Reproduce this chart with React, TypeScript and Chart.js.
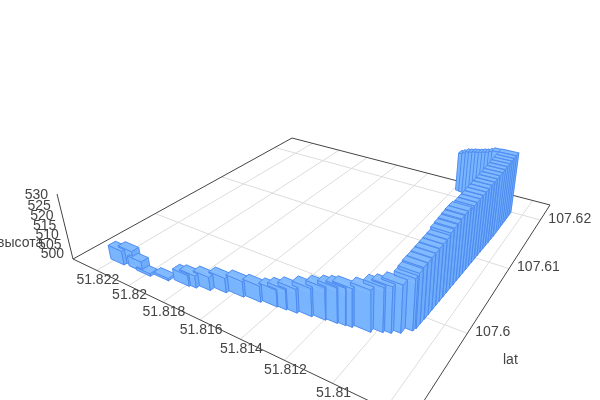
import React, { useEffect, useRef } from "react";
import { Chart, registerables } from "chart.js";

Chart.register(...registerables);

const lonTicks = [51.822, 51.82, 51.818, 51.816, 51.814, 51.812, 51.81, 51.808];
const lonLabels = ["51.822", "51.82", "51.818", "51.816", "51.814", "51.812", "51.81"];
const latTicks = [107.6, 107.61, 107.62];
const latLabels = ["107.6", "107.61", "107.62"];
const heightTicks = [500, 505, 510, 515, 520, 525, 530];

const lons = [
  51.82177, 51.82131, 51.82068, 51.82017, 51.81929, 51.81829, 51.81796, 51.81736, 51.81671, 51.81593, 51.81515,
  51.81442, 51.814, 51.81354, 51.81294, 51.81238, 51.8119, 51.81157, 51.81131, 51.81061, 51.8102, 51.80992, 51.80962, 51.8093,
  51.80925, 51.80924, 51.80922, 51.80921, 51.8092, 51.80919, 51.80918, 51.80917, 51.80916, 51.80915, 51.80914,
  51.80913, 51.80912, 51.80911, 51.8091, 51.80909, 51.80908, 51.80907, 51.80906, 51.80905, 51.80904, 51.80903,
  51.80902, 51.80901, 51.809, 51.809, 51.809, 51.809, 51.809, 51.809, 51.809, 51.809,
  51.80945, 51.80965, 51.80985, 51.81005, 51.81025, 51.81045, 51.81065, 51.81085, 51.81105, 51.81125, 51.81145,
];
const lats = [
  107.59255, 107.59287, 107.5927, 107.59261, 107.59299, 107.59337, 107.59352, 107.59389, 107.59438, 107.59471,
  107.59494, 107.59518, 107.59528, 107.59541, 107.59568, 107.59591, 107.59608, 107.59621, 107.59631, 107.59658,
  107.59705, 107.59731, 107.59771, 107.59843,
  107.59882, 107.59948, 107.60015, 107.60083, 107.60148, 107.60216, 107.60282, 107.6035, 107.60415, 107.60482,
  107.60549, 107.60616, 107.60682, 107.60749, 107.60815, 107.60883, 107.60949, 107.61016, 107.61082, 107.61149,
  107.61215, 107.61283, 107.61349, 107.61416, 107.61482, 107.61549, 107.61616, 107.61682, 107.61749, 107.61815,
  107.61882, 107.61949,
  107.62025, 107.6205, 107.6207, 107.6209, 107.62105, 107.6212, 107.6214, 107.6215, 107.6217, 107.6218, 107.62193,
];
const heights = [
  506.5, 507, 504.7, 501.2, 501, 505, 505.5, 506, 506.5, 507, 507.2, 507.5, 509, 510.5, 512.3, 514, 515.3, 516, 516.5, 517.7,
  519, 519.5, 520.3, 522,
  523.2, 523.8, 524, 524.3, 524.5, 524.8, 525, 525.3, 526.4, 526.9, 527.3, 527.8, 528.2, 528.3, 527.6, 527.7, 527.9,
  528.1, 528.3, 528.5, 528.7, 528.9, 529.1, 529.3, 529.5, 529.7, 529.9, 530.1, 530.2, 530.3, 530.4, 530.5,
  528.8, 527.6, 526.6, 525.8, 525, 524.3, 523.7, 523, 522.3, 521.2, 520.2,
];

const LON_MAX = 51.8236;
const LON_SPAN = 0.0165;
const LAT_MIN = 107.5903;
const LAT_SPAN = 0.0334;
const BAR_LON = 0.00086;
const BAR_LAT = 0.0008;
const BASE = 500;

type Pt = { x: number; y: number };

function project(lon: number, lat: number, h: number): Pt {
  const u = (LON_MAX - lon) / LON_SPAN;
  const v = (lat - LAT_MIN) / LAT_SPAN;
  const z = (h - 500) / 30;
  const w = -0.2944 * u + 0.4687 * v - 0.0541 * z + 1;
  return {
    x: (217 * u + 355.9 * v - 19.04 * z + 73) / w,
    y: (38 * u - 56.3 * v - 75.5 * z + 259) / w,
  };
}

const LON_EDGE_A = LON_MAX;
const LON_EDGE_B = LON_MAX - LON_SPAN;
const LAT_EDGE_A = LAT_MIN;
const LAT_EDGE_B = LAT_MIN + LAT_SPAN;

const FONT = '14px "Liberation Sans", Arial, sans-serif';
const TEXT = "#444444";

function polyDataset(points: Pt[], fill: string | false, stroke: string, width: number) {
  return {
    data: points,
    showLine: true,
    fill: fill ? "shape" : false,
    backgroundColor: fill || "transparent",
    borderColor: stroke,
    borderWidth: width,
    pointRadius: 0,
    tension: 0,
    clip: false,
  };
}

type Box = { lo0: number; lo1: number; la0: number; la1: number; h: number };

const uniq = (xs: number[]) => {
  const s = [...xs].sort((a, b) => a - b);
  return s.filter((x, i) => i === 0 || x - s[i - 1] > 1e-9);
};

function buildDatasets() {
  const out: any[] = [];
  const GRID = "#dcdcdc";
  const AXIS = "#444444";
  lonTicks.forEach((t) => {
    out.push(polyDataset([project(t, LAT_EDGE_A, BASE), project(t, LAT_EDGE_B, BASE)], false, GRID, 1));
  });
  latTicks.forEach((t) => {
    out.push(polyDataset([project(LON_EDGE_A, t, BASE), project(LON_EDGE_B, t, BASE)], false, GRID, 1));
  });
  const c00 = project(LON_EDGE_A, LAT_EDGE_A, BASE);
  const c10 = project(LON_EDGE_B, LAT_EDGE_A, BASE);
  const c11 = project(LON_EDGE_B, LAT_EDGE_B, BASE);
  const c01 = project(LON_EDGE_A, LAT_EDGE_B, BASE);
  out.push(polyDataset([c10, c00, c01, c11, c10], false, AXIS, 1));
  out.push(polyDataset([c00, project(LON_EDGE_A, LAT_EDGE_A, 530)], false, AXIS, 1));

  const boxes: Box[] = lons.map((lon, i) => ({
    lo0: lon - BAR_LON / 2,
    lo1: lon + BAR_LON / 2,
    la0: lats[i] - BAR_LAT / 2,
    la1: lats[i] + BAR_LAT / 2,
    h: heights[i],
  }));
  const covered = (lon: number, lat: number, h: number, self: number) =>
    boxes.some(
      (b, j) => j !== self && lon > b.lo0 && lon < b.lo1 && lat > b.la0 && lat < b.la1 && h < b.h
    );

  const EDGE = "#4b88ee";

  // Draws one face as its visible cells: a box's part lying inside another box is hidden.
  function face(
    self: number,
    sb: number[],
    tb: number[],
    at: (s: number, t: number) => [number, number, number],
    colour: string
  ) {
    const ss = uniq(sb);
    const ts = uniq(tb);
    const vis = (i: number, j: number) => {
      if (i < 0 || j < 0 || i >= ss.length - 1 || j >= ts.length - 1) return false;
      const [a, b, c] = at((ss[i] + ss[i + 1]) / 2, (ts[j] + ts[j + 1]) / 2);
      return !covered(a, b, c, self);
    };
    const P = (s: number, t: number) => {
      const [a, b, c] = at(s, t);
      return project(a, b, c);
    };
    const edges: Pt[] = [];
    const gap: Pt = { x: NaN, y: NaN };
    for (let i = 0; i < ss.length - 1; i++) {
      for (let j = 0; j < ts.length - 1; j++) {
        if (!vis(i, j)) continue;
        const s0 = ss[i], s1 = ss[i + 1], t0 = ts[j], t1 = ts[j + 1];
        out.push(polyDataset([P(s0, t0), P(s1, t0), P(s1, t1), P(s0, t1), P(s0, t0)], colour, colour, 0.4));
        if (!vis(i - 1, j)) edges.push(P(s0, t0), P(s0, t1), gap);
        if (!vis(i + 1, j)) edges.push(P(s1, t0), P(s1, t1), gap);
        if (!vis(i, j - 1)) edges.push(P(s0, t0), P(s1, t0), gap);
        if (!vis(i, j + 1)) edges.push(P(s0, t1), P(s1, t1), gap);
      }
    }
    if (edges.length) out.push(polyDataset(edges, false, EDGE, 0.9));
  }

  const order = lons
    .map((_, i) => i)
    .sort((a, b) => {
      const ka = (LON_MAX - lons[a]) / LON_SPAN - (lats[a] - LAT_MIN) / LAT_SPAN;
      const kb = (LON_MAX - lons[b]) / LON_SPAN - (lats[b] - LAT_MIN) / LAT_SPAN;
      return ka - kb;
    });

  order.forEach((i) => {
    const B = boxes[i];
    const others = boxes.filter((_, j) => j !== i);
    const inLat = (o: Box, v: number) => o.la0 < v && v < o.la1;
    const inLon = (o: Box, v: number) => o.lo0 < v && v < o.lo1;
    const overlapLon = (o: Box) => o.lo0 < B.lo1 && o.lo1 > B.lo0;
    const overlapLat = (o: Box) => o.la0 < B.la1 && o.la1 > B.la0;
    const within = (x: number, a: number, b: number) => x > a && x < b;

    const frontLat = others.filter((o) => inLat(o, B.la0) && overlapLon(o));
    face(
      i,
      [B.lo0, B.lo1, ...frontLat.flatMap((o) => [o.lo0, o.lo1]).filter((x) => within(x, B.lo0, B.lo1))],
      [BASE, B.h, ...frontLat.map((o) => o.h).filter((x) => within(x, BASE, B.h))],
      (s, t) => [s, B.la0, t],
      "#79b5ff"
    );
    const frontLon = others.filter((o) => inLon(o, B.lo0) && overlapLat(o));
    face(
      i,
      [B.la0, B.la1, ...frontLon.flatMap((o) => [o.la0, o.la1]).filter((x) => within(x, B.la0, B.la1))],
      [BASE, B.h, ...frontLon.map((o) => o.h).filter((x) => within(x, BASE, B.h))],
      (s, t) => [B.lo0, s, t],
      "#6fadfb"
    );
    const above = others.filter((o) => o.h > B.h && overlapLon(o) && overlapLat(o));
    face(
      i,
      [B.lo0, B.lo1, ...above.flatMap((o) => [o.lo0, o.lo1]).filter((x) => within(x, B.lo0, B.lo1))],
      [B.la0, B.la1, ...above.flatMap((o) => [o.la0, o.la1]).filter((x) => within(x, B.la0, B.la1))],
      (s, t) => [s, t, B.h],
      "#82baff"
    );
  });
  return out.reverse();
}

const textPlugin = {
  id: "axisText",
  afterDraw(chart: any) {
    const ctx = chart.ctx as CanvasRenderingContext2D;
    ctx.save();
    ctx.font = FONT;
    ctx.fillStyle = TEXT;
    ctx.textBaseline = "middle";
    ctx.textAlign = "center";
    lonLabels.forEach((label, i) => {
      const p = project(lonTicks[i], LAT_EDGE_A, BASE);
      ctx.fillText(label, p.x + 1, p.y + 10);
    });
    ctx.textAlign = "left";
    latLabels.forEach((label, i) => {
      const p = project(LON_EDGE_B, latTicks[i], BASE);
      ctx.fillText(label, p.x + 8, p.y - 1);
    });
    ctx.textAlign = "right";
    heightTicks.forEach((t) => {
      const p = project(LON_EDGE_A, LAT_EDGE_A, t);
      const f = (t - 500) / 30;
      ctx.fillText(String(t), p.x - 9, p.y - 5 * (1 - f) + 1.5 * f);
    });
    ctx.textAlign = "left";
    ctx.fillText("высота", -3, 243);
    ctx.fillText("lat", 503, 360);
    ctx.restore();
  },
};

export default function App() {
  const ref = useRef<HTMLCanvasElement>(null);
  useEffect(() => {
    const chart = new Chart(ref.current as HTMLCanvasElement, {
      type: "scatter",
      data: { datasets: buildDatasets() },
      options: {
        animation: false,
        responsive: false,
        layout: { padding: 0 },
        plugins: { legend: { display: false }, tooltip: { enabled: false }, title: { display: false } },
        scales: {
          x: { type: "linear", min: 0, max: 600, display: false },
          y: { type: "linear", min: 0, max: 400, reverse: true, display: false },
        },
      },
      plugins: [textPlugin],
    } as any);
    return () => chart.destroy();
  }, []);
  return (
    <div style={{ position: "absolute", left: 0, top: 0, width: 600, height: 400, overflow: "hidden", background: "#fff" }}>
      <canvas ref={ref} width={600} height={400} style={{ display: "block" }} />
    </div>
  );
}
